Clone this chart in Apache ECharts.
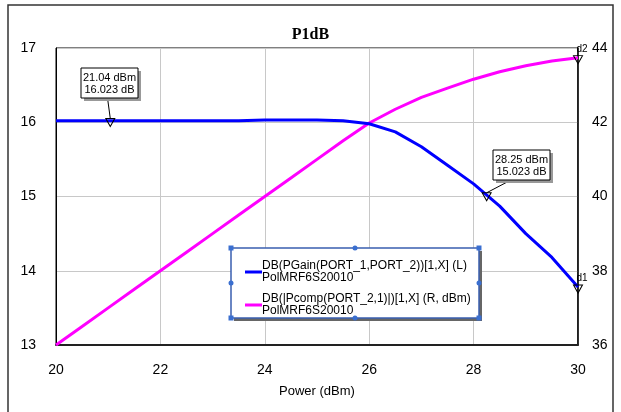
<!DOCTYPE html>
<html>
<head>
<meta charset="utf-8">
<script src="https://cdn.jsdelivr.net/npm/echarts@6/dist/echarts.min.js"></script>
<style>
  html, body { margin: 0; padding: 0; background: #fff; }
  #chart { width: 621px; height: 412px; }
</style>
</head>
<body>
<div id="chart"></div>
<script>
// input power sweep (dBm)
const power = [20, 20.5, 21, 21.5, 22, 22.5, 23, 23.5, 24, 24.5, 25, 25.5, 26, 26.5, 27, 27.5, 28, 28.5, 29, 29.5, 30]
// DB(PGain(PORT_1,PORT_2)) - left axis, dB
const gain = [16.02, 16.02, 16.02, 16.02, 16.02, 16.02, 16.02, 16.02, 16.03, 16.03, 16.03, 16.02, 15.98, 15.87, 15.67, 15.42, 15.17, 14.87, 14.5, 14.18, 13.78]
// DB(|Pcomp(PORT_2,1)|) - right axis, dBm
const pcomp = [36, 36.5, 37, 37.5, 38, 38.5, 39, 39.5, 40, 40.5, 41, 41.5, 41.98, 42.35, 42.67, 42.92, 43.16, 43.36, 43.52, 43.65, 43.74]

const seriesNames = ['DB(PGain(PORT_1,PORT_2))[1,X] (L)', 'DB(|Pcomp(PORT_2,1)|)[1,X] (R, dBm)']
const subName = 'PolMRF6S20010'

// markers: [x, y, text lines]
const markers = [
  { x: 21.04, y: 16.023, lines: ['21.04 dBm', '16.023 dB'] },
  { x: 28.25, y: 15.023, lines: ['28.25 dBm', '15.023 dB'] }
]

const FONT = 'Liberation Sans, Arial, sans-serif'

const chart = echarts.init(document.getElementById('chart'))

const tri = {
  symbol: 'triangle',
  symbolSize: [9, 8],
  symbolRotate: 180,
  symbolOffset: [0, 2],
  itemStyle: { color: 'rgba(255,255,255,0)', borderColor: '#000', borderWidth: 1 }
}

const option = {
  animation: false,
  title: {
    text: 'P1dB',
    left: 'center',
    top: 22,
    textStyle: { fontFamily: 'Liberation Serif, Times New Roman, serif', fontWeight: 'bold', fontSize: 16, color: '#000' }
  },
  grid: { left: 56, right: 43, top: 48, bottom: 67, show: true, borderColor: '#000', borderWidth: 1, backgroundColor: 'rgba(0,0,0,0)' },
  legend: {
    orient: 'vertical',
    left: 240,
    top: 255,
    itemWidth: 17,
    itemHeight: 3,
    itemGap: 9,
    icon: 'rect',
    data: seriesNames,
    formatter: n => n + '\n' + subName,
    textStyle: { fontFamily: FONT, fontSize: 12, color: '#000', lineHeight: 12, padding: [0, 0, 0, -5] }
  },
  xAxis: {
    type: 'value',
    min: 20, max: 30, interval: 2,
    name: 'Power (dBm)',
    nameLocation: 'middle',
    nameGap: 40,
    nameTextStyle: { fontFamily: FONT, fontSize: 13, color: '#000' },
    axisLine: { show: true, lineStyle: { color: '#222', width: 2 } },
    axisTick: { show: false },
    axisLabel: { margin: 18, fontFamily: FONT, fontSize: 14, color: '#000' },
    splitLine: { show: true, lineStyle: { color: '#c8c8c8', width: 1 } }
  },
  yAxis: [
    {
      type: 'value',
      min: 13, max: 17, interval: 1,
      axisLine: { show: true, lineStyle: { color: '#000', width: 1 } },
      axisTick: { show: false },
      axisLabel: { margin: 20, fontFamily: FONT, fontSize: 14, color: '#000' },
      splitLine: { show: true, lineStyle: { color: '#c8c8c8', width: 1 } }
    },
    {
      type: 'value',
      min: 36, max: 44, interval: 2,
      position: 'right',
      axisLine: { show: true, lineStyle: { color: '#000', width: 1.5 } },
      axisTick: { show: false },
      axisLabel: { margin: 14, fontFamily: FONT, fontSize: 14, color: '#000' },
      splitLine: { show: false }
    }
  ],
  series: [
    {
      name: seriesNames[0],
      type: 'line',
      yAxisIndex: 0,
      data: power.map((p, i) => [p, gain[i]]),
      showSymbol: false,
      lineStyle: { color: '#0000ff', width: 3 },
      itemStyle: { color: '#0000ff' },
      z: 3,
      markPoint: Object.assign({}, tri, {
        label: { show: false },
        data: markers.map(m => ({ coord: [m.x, m.y] })).concat([{
          coord: [30, gain[gain.length - 1]],
          label: { show: true, formatter: 'd1', position: 'top', offset: [4, 4], fontFamily: FONT, fontSize: 10, color: '#000' }
        }])
      })
    },
    {
      name: seriesNames[1],
      type: 'line',
      yAxisIndex: 1,
      data: power.map((p, i) => [p, pcomp[i]]),
      showSymbol: false,
      lineStyle: { color: '#ff00ff', width: 3 },
      itemStyle: { color: '#ff00ff' },
      z: 2,
      markPoint: Object.assign({}, tri, {
        data: [{
          coord: [30, pcomp[pcomp.length - 1]],
          label: { show: true, formatter: 'd2', position: 'top', offset: [4, 4], fontFamily: FONT, fontSize: 10, color: '#000' }
        }]
      })
    }
  ]
}

chart.setOption(option)

// annotation boxes + leader lines, legend frame, outer frame
const boxPos = [[81, 68], [493, 150]]
const graphics = []

// outer frame
graphics.push({
  type: 'rect', shape: { x: 8, y: 5, width: 605, height: 430 },
  style: { fill: 'none', stroke: '#333', lineWidth: 1.5 }, silent: true, z: 0
})

markers.forEach((m, i) => {
  const pt = chart.convertToPixel({ xAxisIndex: 0, yAxisIndex: 0 }, [m.x, m.y])
  const [bx, by] = boxPos[i]
  const w = 57, h = 30
  const anchor = i === 0 ? [bx + w / 2 - 2, by + h] : [bx + 18, by + h]
  graphics.push({
    type: 'line', shape: { x1: anchor[0], y1: anchor[1], x2: pt[0], y2: pt[1] - 2 },
    style: { stroke: '#000', lineWidth: 1 }, z: 20
  })
  graphics.push({
    type: 'rect', shape: { x: bx + 3, y: by + 3, width: w, height: h },
    style: { fill: '#999' }, z: 20
  })
  graphics.push({
    type: 'rect', shape: { x: bx, y: by, width: w, height: h },
    style: { fill: '#fff', stroke: '#000', lineWidth: 1 }, z: 21
  })
  graphics.push({
    type: 'text', x: bx + w / 2, y: by + 4, z: 22,
    style: { text: m.lines.join('\n'), font: '11px ' + FONT, fill: '#000', align: 'center', lineHeight: 12 }
  })
})

// legend frame with selection handles
const L = { x: 231, y: 248, w: 248, h: 70 }
graphics.push({
  type: 'rect', shape: { x: L.x + 3, y: L.y + 3, width: L.w, height: L.h },
  style: { fill: '#666' }, z: 9
})
graphics.push({
  type: 'rect', shape: { x: L.x, y: L.y, width: L.w, height: L.h },
  style: { fill: '#fff', stroke: '#3a5fb0', lineWidth: 1.5 }, z: 10
})
const sq = [[L.x, L.y], [L.x + L.w, L.y], [L.x, L.y + L.h], [L.x + L.w, L.y + L.h]]
sq.forEach(([x, y]) => graphics.push({
  type: 'rect', shape: { x: x - 2.5, y: y - 2.5, width: 5, height: 5 }, style: { fill: '#3a6fd0' }, z: 11
}))
const dots = [[L.x + L.w / 2, L.y], [L.x + L.w / 2, L.y + L.h], [L.x, L.y + L.h / 2], [L.x + L.w, L.y + L.h / 2]]
dots.forEach(([x, y]) => graphics.push({
  type: 'circle', shape: { cx: x, cy: y, r: 2.5 }, style: { fill: '#3a6fd0' }, z: 11
}))

chart.setOption({ graphic: graphics, legend: { z: 12 } })
</script>
</body>
</html>
